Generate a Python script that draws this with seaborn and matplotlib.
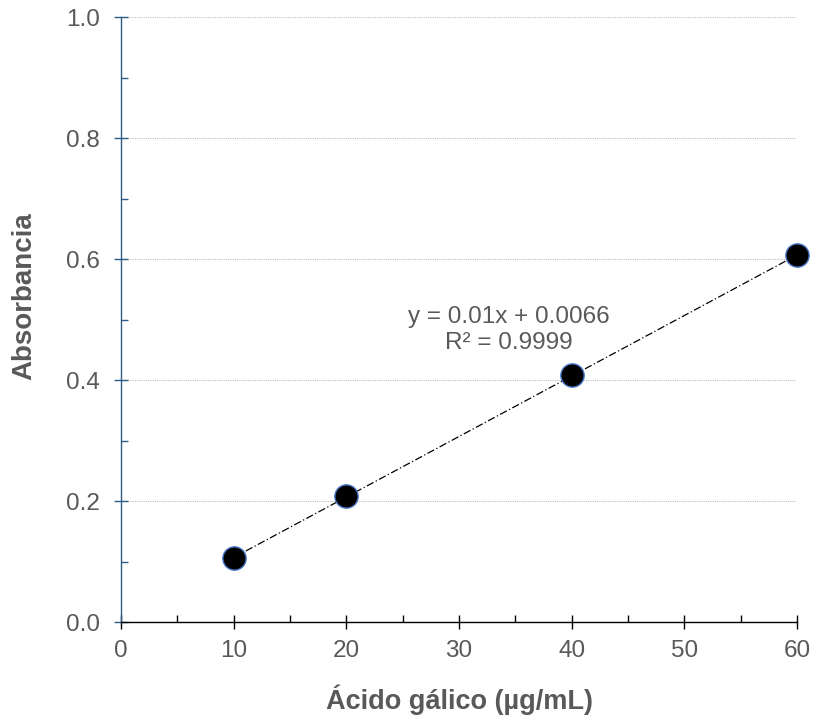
import numpy as np
import pandas as pd
import matplotlib
matplotlib.use("Agg")
import matplotlib.pyplot as plt
from matplotlib.ticker import MultipleLocator
import seaborn as sns

# Data
concentracion = [10, 20, 40, 60]
absorbancia = [0.105, 0.209, 0.408, 0.607]
pendiente = 0.01
intercepto = 0.0066
ecuacion = "y = 0.01x + 0.0066"
r2_texto = "R² = 0.9999"
x_ticks = [0, 10, 20, 30, 40, 50, 60]
y_ticks = [0.0, 0.2, 0.4, 0.6, 0.8, 1.0]

sns.set_theme(style="white")
plt.rcParams['font.family'] = ['Liberation Sans', 'DejaVu Sans']

df = pd.DataFrame({"x": concentracion, "y": absorbancia})
trend_x = [min(concentracion), max(concentracion)]
trend = pd.DataFrame({"x": trend_x, "y": [pendiente * v + intercepto for v in trend_x]})

fig = plt.figure(figsize=(8.16, 7.21), dpi=100)
ax = fig.add_axes([0.1483, 0.1373, 0.8284, 0.8391])

sns.lineplot(data=trend, x="x", y="y", ax=ax, color="black", lw=0.9,
             linestyle=(0, (6, 2, 1, 2)), zorder=2)
sns.scatterplot(data=df, x="x", y="y", ax=ax, s=280, color="black",
                edgecolor="#4472c4", linewidth=1.0, zorder=3, clip_on=False)

ax.set_xlim(0, 60)
ax.set_ylim(0, 1.0)
ax.set_xticks(x_ticks)
ax.set_yticks(y_ticks)
ax.set_yticklabels([f"{v:.1f}" for v in y_ticks])
ax.xaxis.set_minor_locator(MultipleLocator(5))
ax.yaxis.set_minor_locator(MultipleLocator(0.1))

ax.grid(axis="y", which="major", color="#bfbfbf", linestyle=(0, (1, 1)), lw=0.8)
ax.grid(axis="x", visible=False)
ax.set_axisbelow(True)

for s in ["top", "right"]:
    ax.spines[s].set_visible(False)
ax.spines["left"].set_color("#2e5d8a")
ax.spines["left"].set_linewidth(1.0)
ax.spines["bottom"].set_color("black")
ax.spines["bottom"].set_linewidth(1.0)

ax.tick_params(axis="x", which="major", direction="inout", length=10, width=1,
               color="black", labelsize=17.5, labelcolor="#595959", pad=8)
ax.tick_params(axis="x", which="minor", direction="in", length=5, width=1, color="black")
ax.tick_params(axis="y", which="major", direction="inout", length=10, width=1,
               color="#2e5d8a", labelsize=17.5, labelcolor="#595959", pad=10)
ax.tick_params(axis="y", which="minor", direction="in", length=5, width=1, color="#2e5d8a")
ax.tick_params(left=True, bottom=True, which="both")

ax.set_xlabel("Ácido gálico (µg/mL)", fontsize=19.5, fontweight="bold", color="#595959", labelpad=16)
ax.set_ylabel("Absorbancia", fontsize=20, fontweight="bold", color="#595959")
ax.yaxis.set_label_coords(-0.124, 0.539)

ax.text(34.4, 0.504, ecuacion, ha="center", va="center", fontsize=17.5, color="#595959")
ax.text(34.4, 0.461, r2_texto, ha="center", va="center", fontsize=17.5, color="#595959")

fig.savefig("out.png", dpi=100)
